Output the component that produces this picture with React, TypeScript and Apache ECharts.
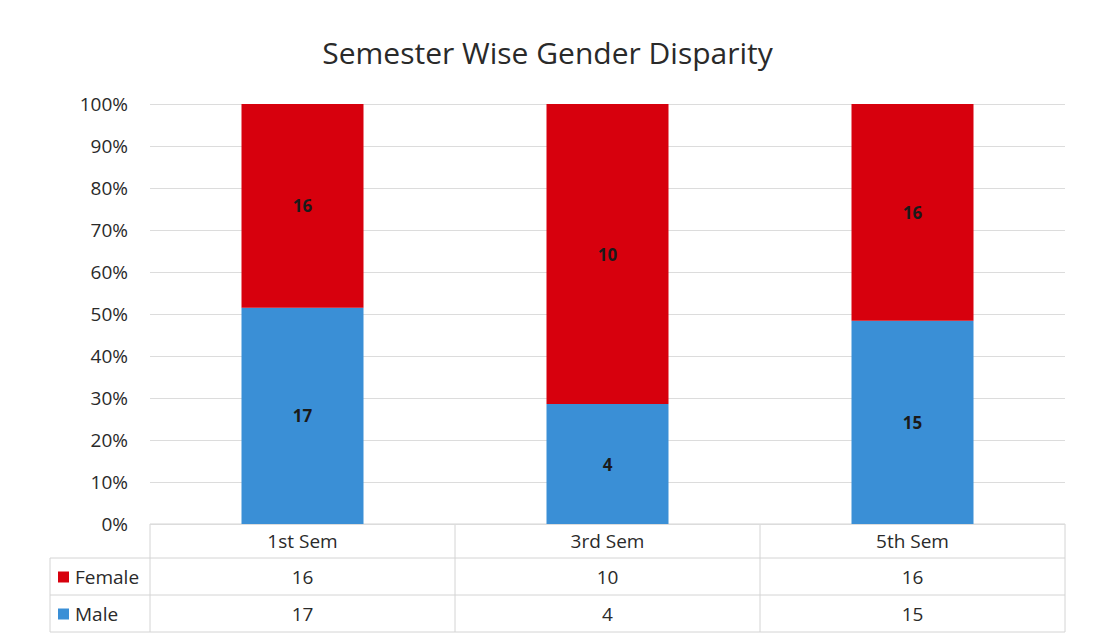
import React, { useEffect, useRef } from "react";
import * as echarts from "echarts";

const categories = ["1st Sem", "3rd Sem", "5th Sem"];
const femaleValues = [16, 10, 16];
const maleValues = [17, 4, 15];
const yTicks = [0, 10, 20, 30, 40, 50, 60, 70, 80, 90, 100];

const W = 1095;
const H = 640;
const GRID_LEFT = 150;
const GRID_RIGHT = 30;
const GRID_TOP = 104;
const GRID_BOTTOM = 116;
const RED = "#D7000D";
const BLUE = "#3A8FD6";
const LINE = "#d4d4d4";
const FONT = "Open Sans";
const TXT = "#2a2a2a";

export default function App() {
  const ref = useRef<HTMLDivElement>(null);
  useEffect(() => {
    if (!ref.current) return;
    const chart = echarts.init(ref.current, null, { renderer: "svg" });
    const totals = categories.map((_, i) => femaleValues[i] + maleValues[i]);
    const malePct = maleValues.map((v, i) => (v / totals[i]) * 100);
    const femalePct = femaleValues.map((v, i) => (v / totals[i]) * 100);

    const x0 = GRID_LEFT;
    const x1 = W - GRID_RIGHT;
    const colW = (x1 - x0) / categories.length;
    const yTop = H - GRID_BOTTOM;
    const rowH = [34, 37, 37];
    const yH = yTop + rowH[0];
    const yF = yH + rowH[1];
    const yM = yF + rowH[2];
    const keyLeft = 50;

    const graphics: any[] = [];
    const hline = (y: number, xa: number, xb: number) =>
      graphics.push({ type: "line", shape: { x1: xa, y1: y, x2: xb, y2: y }, style: { stroke: LINE, lineWidth: 1 }, silent: true });
    const vline = (x: number, ya: number, yb: number) =>
      graphics.push({ type: "line", shape: { x1: x, y1: ya, x2: x, y2: yb }, style: { stroke: LINE, lineWidth: 1 }, silent: true });
    hline(yTop, x0, x1);
    hline(yH, keyLeft, x1);
    hline(yF, keyLeft, x1);
    hline(yM, keyLeft, x1);
    vline(keyLeft, yH, yM);
    for (let i = 0; i <= categories.length; i++) vline(x0 + i * colW, yTop, yM);

    const cellText = (txt: string, cx: number, cy: number) =>
      graphics.push({
        type: "text",
        x: cx,
        y: cy,
        style: { text: txt, fill: TXT, font: `19px "${FONT}"`, align: "center", verticalAlign: "middle" },
        silent: true,
      });
    categories.forEach((c, i) => {
      const cx = x0 + (i + 0.5) * colW;
      cellText(c, cx, (yTop + yH) / 2);
      cellText(String(femaleValues[i]), cx, (yH + yF) / 2);
      cellText(String(maleValues[i]), cx, (yF + yM) / 2);
    });
    const legendRow = (name: string, color: string, cy: number) => {
      graphics.push({ type: "rect", shape: { x: 58, y: cy - 5, width: 11, height: 11 }, style: { fill: color }, silent: true });
      graphics.push({
        type: "text",
        x: 75,
        y: cy,
        style: { text: name, fill: TXT, font: `19px "${FONT}"`, align: "left", verticalAlign: "middle" },
        silent: true,
      });
    };
    legendRow("Female", RED, (yH + yF) / 2);
    legendRow("Male", BLUE, (yF + yM) / 2);

    chart.setOption({
      animation: false,
      backgroundColor: "#ffffff",
      title: {
        text: "Semester Wise Gender Disparity",
        left: "center",
        top: 32,
        textStyle: { fontFamily: FONT, fontSize: 30, fontWeight: "normal", color: TXT },
      },
      grid: { left: GRID_LEFT, right: GRID_RIGHT, top: GRID_TOP, bottom: GRID_BOTTOM },
      xAxis: {
        type: "category",
        data: categories,
        axisLine: { show: false },
        axisTick: { show: false },
        axisLabel: { show: false },
      },
      yAxis: {
        type: "value",
        min: yTicks[0],
        max: yTicks[yTicks.length - 1],
        interval: 10,
        axisLine: { show: false },
        axisTick: { show: false },
        axisLabel: { formatter: "{value}%", fontFamily: FONT, fontSize: 19, color: TXT, margin: 22 },
        splitLine: { lineStyle: { color: "#dcdcdc", width: 1 } },
      },
      series: [
        {
          name: "Male",
          type: "bar",
          stack: "total",
          barWidth: "40%",
          data: malePct,
          itemStyle: { color: BLUE },
          label: {
            show: true,
            position: "inside",
            formatter: (p: any) => String(maleValues[p.dataIndex]),
            fontFamily: FONT,
            fontSize: 17,
            fontWeight: "bold",
            color: "#1a1a1a",
          },
        },
        {
          name: "Female",
          type: "bar",
          stack: "total",
          barWidth: "40%",
          data: femalePct,
          itemStyle: { color: RED },
          label: {
            show: true,
            position: "inside",
            formatter: (p: any) => String(femaleValues[p.dataIndex]),
            fontFamily: FONT,
            fontSize: 17,
            fontWeight: "bold",
            color: "#1a1a1a",
          },
        },
      ],
      graphic: graphics,
    });
    return () => chart.dispose();
  }, []);
  return <div ref={ref} style={{ position: "fixed", left: 0, top: 0, width: W, height: H }} />;
}
